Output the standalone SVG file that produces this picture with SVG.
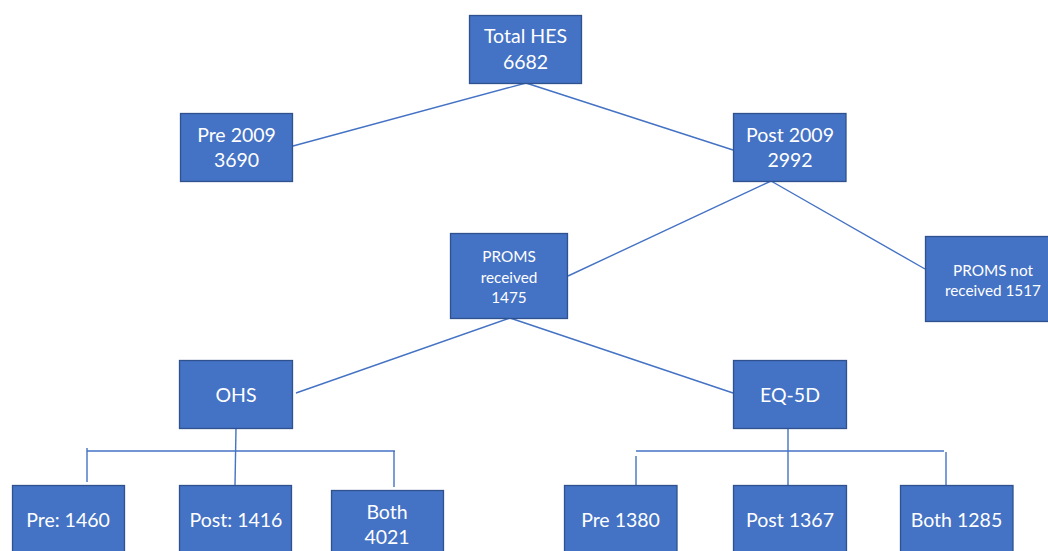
<svg xmlns="http://www.w3.org/2000/svg" width="1048" height="551" viewBox="0 0 1048 551">
<style>
.box{fill:#4472C4;stroke:#2F528F;stroke-width:1.3}
.t{fill:#fff;font-family:Lato,"Open Sans","Liberation Sans",sans-serif;font-size:19.5px;text-anchor:middle}
.s{font-size:15.3px}
.c{stroke:#4472C4;stroke-width:1.4;fill:none}
</style>
<rect width="1048" height="551" fill="#fff"/>
<g id="connectors">
<line class="c" x1="526" y1="83" x2="293" y2="146"/>
<line class="c" x1="526" y1="83" x2="733" y2="150"/>
<line class="c" x1="771" y1="181" x2="568" y2="276"/>
<line class="c" x1="771" y1="181" x2="925" y2="269"/>
<line class="c" x1="510" y1="318" x2="296" y2="393"/>
<line class="c" x1="510" y1="318" x2="733" y2="393"/>
<line class="c" x1="236" y1="428" x2="235" y2="485"/>
<line class="c" x1="87" y1="451" x2="395" y2="451"/>
<line class="c" x1="87" y1="448" x2="87" y2="482"/>
<line class="c" x1="394" y1="451" x2="394" y2="487"/>
<line class="c" x1="788" y1="428" x2="788" y2="485"/>
<line class="c" x1="636" y1="451" x2="944" y2="451"/>
<line class="c" x1="636" y1="456" x2="636" y2="485"/>
<line class="c" x1="946" y1="452" x2="946" y2="485"/>
</g>
<g id="total">
<rect class="box" x="469.5" y="15.5" width="112" height="68"/>
<text class="t" x="525.5" y="43">Total HES</text>
<text class="t" x="525.5" y="69">6682</text>
</g>
<g id="pre2009">
<rect class="box" x="180.5" y="113.5" width="112" height="68"/>
<text class="t" x="236.5" y="142">Pre 2009</text>
<text class="t" x="236.5" y="167">3690</text>
</g>
<g id="post2009">
<rect class="box" x="733.5" y="113.5" width="112.5" height="68"/>
<text class="t" x="790" y="142">Post 2009</text>
<text class="t" x="790" y="167">2992</text>
</g>
<g id="promsReceived">
<rect class="box" x="450.5" y="233.5" width="117" height="85"/>
<text class="t s" x="509" y="262">PROMS</text>
<text class="t s" x="509" y="283">received</text>
<text class="t s" x="509" y="303">1475</text>
</g>
<g id="promsNotReceived">
<rect class="box" x="925.5" y="236.5" width="130" height="85"/>
<text class="t s" x="993" y="276">PROMS not</text>
<text class="t s" x="993" y="296">received 1517</text>
</g>
<g id="ohs">
<rect class="box" x="179.5" y="360.5" width="113" height="68"/>
<text class="t" x="236" y="402">OHS</text>
</g>
<g id="eq5d">
<rect class="box" x="733.5" y="360.5" width="113" height="68"/>
<text class="t" x="790" y="402">EQ-5D</text>
</g>
<g id="ohsPre">
<rect class="box" x="12.5" y="485.5" width="112" height="75"/>
<text class="t" x="68" y="527">Pre: 1460</text>
</g>
<g id="ohsPost">
<rect class="box" x="179.5" y="485.5" width="112" height="75"/>
<text class="t" x="236" y="527">Post: 1416</text>
</g>
<g id="ohsBoth">
<rect class="box" x="331.5" y="490.5" width="112" height="75"/>
<text class="t" x="387" y="519">Both</text>
<text class="t" x="387" y="544">4021</text>
</g>
<g id="eqPre">
<rect class="box" x="564.5" y="485.5" width="112.5" height="75"/>
<text class="t" x="620.5" y="527">Pre 1380</text>
</g>
<g id="eqPost">
<rect class="box" x="733.5" y="485.5" width="113" height="75"/>
<text class="t" x="790" y="527">Post 1367</text>
</g>
<g id="eqBoth">
<rect class="box" x="900.5" y="485.5" width="112.5" height="75"/>
<text class="t" x="956.5" y="527">Both 1285</text>
</g>
</svg>
